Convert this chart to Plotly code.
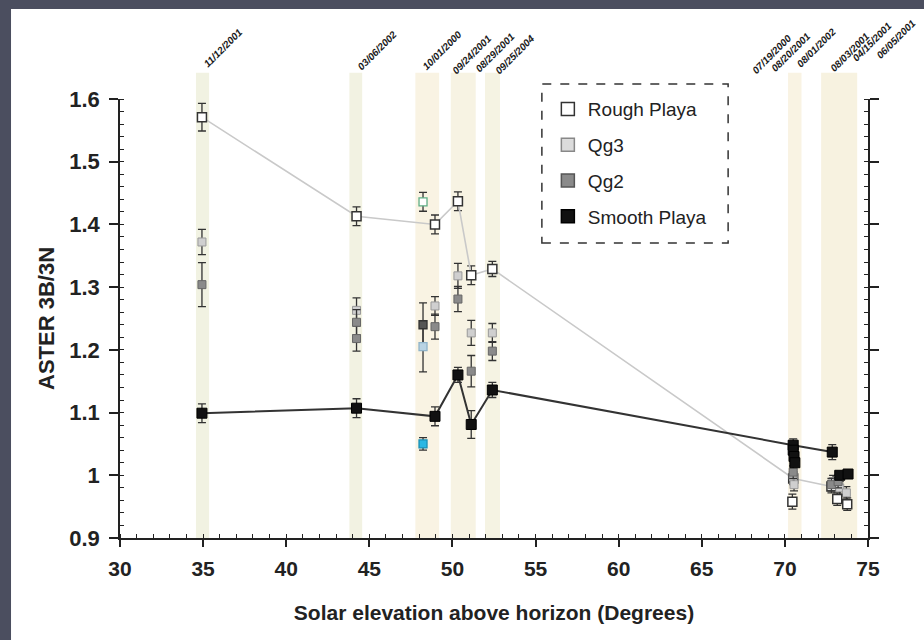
import plotly.graph_objects as go

# ---------------- data ----------------
rough_x = [34.93, 44.23, 48.95, 50.33, 51.13, 52.40, 70.50, 72.80]
rough_y = [1.571, 1.413, 1.400, 1.437, 1.319, 1.329, 0.995, 0.982]
rough_err = [0.022, 0.015, 0.015, 0.015, 0.015, 0.012, 0.010, 0.010]
rough_extra_x = [70.45, 73.15, 73.75]
rough_extra_y = [0.958, 0.962, 0.954]
rough_extra_err = [0.012, 0.010, 0.010]

qg3_x = [34.93, 44.23, 48.95, 50.33, 51.13, 52.40, 70.50, 70.55, 72.90, 73.30, 73.70]
qg3_y = [1.372, 1.263, 1.270, 1.318, 1.227, 1.227, 1.000, 0.985, 0.990, 0.980, 0.972]
qg3_err = [0.020, 0.020, 0.015, 0.020, 0.020, 0.015, 0.010, 0.010, 0.010, 0.010, 0.010]

qg2_x = [34.93, 44.23, 44.23, 48.95, 50.33, 51.13, 52.40, 70.50, 72.80, 73.20]
qg2_y = [1.304, 1.244, 1.218, 1.237, 1.281, 1.166, 1.198, 1.005, 0.985, 0.990]
qg2_err = [0.035, 0.020, 0.020, 0.020, 0.020, 0.025, 0.015, 0.010, 0.010, 0.010]

smooth_x = [34.93, 44.23, 48.95, 50.33, 51.13, 52.40, 70.50, 72.85]
smooth_y = [1.099, 1.107, 1.094, 1.160, 1.081, 1.136, 1.048, 1.037]
smooth_err = [0.015, 0.015, 0.015, 0.012, 0.022, 0.012, 0.010, 0.012]
smooth_extra_x = [70.50, 70.55, 70.60, 73.30, 73.80]
smooth_extra_y = [1.040, 1.030, 1.020, 1.000, 1.002]

# 10/01/2000 scene (odd colours)
odd_x = [48.23, 48.23, 48.23, 48.23]
odd_y = [1.436, 1.240, 1.205, 1.050]
odd_err = [0.015, 0.035, 0.040, 0.010]
odd_fill = ["#ffffff", "#555555", "#b9d3e3", "#2ab7e3"]
odd_edge = ["#5fae85", "#333333", "#8fb3c9", "#1a8fb5"]

# shaded acquisition bands (solar elevation ranges)
band_x0 = [34.57, 43.80, 47.77, 49.90, 51.96, 70.19, 72.18]
band_x1 = [35.36, 44.57, 49.20, 51.40, 52.86, 71.00, 74.35]
band_col = ["#f1f2e2", "#f2f2e2", "#f9f3e3", "#f7f3e3", "#f5f3e3", "#f9f3e3", "#f7f2e0"]

# scene dates (label anchor positions in degrees)
date_labels = ["11/12/2001", "03/06/2002", "10/01/2000", "09/24/2001", "08/29/2001",
               "09/25/2004", "07/19/2000", "08/20/2001", "08/01/2002", "08/03/2001",
               "04/15/2001", "06/05/2001"]
date_x = [34.75, 44.0, 47.9, 49.7, 51.1, 52.3, 67.73, 68.87, 70.43, 72.42, 73.8, 74.95]
date_y = [1.062, 1.055, 1.055, 1.045, 1.05, 1.045, 1.045, 1.05, 1.062, 1.05, 1.075, 1.08]
date_shift = [0, 0, 0, 0, 0, 0, 0, 0, 0, 0, 0, 4]

x_ticks = [30, 35, 40, 45, 50, 55, 60, 65, 70, 75]
y_ticks = [0.9, 1.0, 1.1, 1.2, 1.3, 1.4, 1.5, 1.6]

# ---------------- figure ----------------
FONT = "Arial, Liberation Sans, sans-serif"
fig = go.Figure()

eb = dict(type="data", thickness=1.3, width=4, color="#333333")

fig.add_trace(go.Scatter(x=rough_x, y=rough_y, mode="lines+markers",
                         line=dict(color="#c9c9c9", width=1.6),
                         marker=dict(symbol="square", size=9, color="#ffffff",
                                     line=dict(color="#333333", width=1.5)),
                         error_y=dict(array=rough_err, **eb), showlegend=False))
fig.add_trace(go.Scatter(x=qg3_x, y=qg3_y, mode="markers",
                         marker=dict(symbol="square", size=8, color="#cfcfcf",
                                     line=dict(color="#999999", width=1)),
                         error_y=dict(array=qg3_err, **eb), showlegend=False))
fig.add_trace(go.Scatter(x=qg2_x, y=qg2_y, mode="markers",
                         marker=dict(symbol="square", size=8, color="#8a8a8a",
                                     line=dict(color="#666666", width=1)),
                         error_y=dict(array=qg2_err, **eb), showlegend=False))
fig.add_trace(go.Scatter(x=odd_x, y=odd_y, mode="markers",
                         marker=dict(symbol="square", size=8, color=odd_fill,
                                     line=dict(color=odd_edge, width=1.3)),
                         error_y=dict(array=odd_err, **eb), showlegend=False))
fig.add_trace(go.Scatter(x=rough_extra_x, y=rough_extra_y, mode="markers",
                         marker=dict(symbol="square", size=9, color="#ffffff",
                                     line=dict(color="#333333", width=1.5)),
                         error_y=dict(array=rough_extra_err, **eb), showlegend=False))
fig.add_trace(go.Scatter(x=smooth_x, y=smooth_y, mode="lines+markers",
                         line=dict(color="#333333", width=2),
                         marker=dict(symbol="square", size=10, color="#111111",
                                     line=dict(color="#000000", width=1)),
                         error_y=dict(array=smooth_err, **eb), showlegend=False))
fig.add_trace(go.Scatter(x=smooth_extra_x, y=smooth_extra_y, mode="markers",
                         marker=dict(symbol="square", size=10, color="#111111",
                                     line=dict(color="#000000", width=1)),
                         showlegend=False))

# legend entries
leg = [("Rough Playa", "#ffffff", "#333333"), ("Qg3", "#dcdcdc", "#888888"),
       ("Qg2", "#8a8a8a", "#555555"), ("Smooth Playa", "#111111", "#000000")]
for i, (name, fc, ec) in enumerate(leg):
    fig.add_trace(go.Scatter(x=[None], y=[None], mode="markers", name=name,
                             legendgroup=f"g{i}",
                             marker=dict(symbol="square", size=13, color=fc,
                                         line=dict(color=ec, width=1.5))))

shapes = []
shapes.append(dict(type="rect", xref="paper", yref="paper", x0=-0.1457, x1=1.2,
                   y0=-0.4, y1=1.2050, fillcolor="#ffffff", line=dict(width=0),
                   layer="below"))
for x0, x1, c in zip(band_x0, band_x1, band_col):
    shapes.append(dict(type="rect", xref="x", yref="paper", x0=x0, x1=x1,
                       y0=0, y1=1.06, fillcolor=c, line=dict(width=0), layer="below"))
shapes.append(dict(type="rect", xref="paper", yref="paper", x0=0.564, x1=0.813,
                   y0=0.672, y1=1.034, line=dict(color="#333333", width=1.5, dash="dash"),
                   fillcolor="rgba(0,0,0,0)"))

annotations = []
for t, x, y, s in zip(date_labels, date_x, date_y, date_shift):
    annotations.append(dict(text=f"<i><b>{t}</b></i>", x=x, y=y, xref="x", yref="paper",
                            xshift=s, showarrow=False, textangle=-45, xanchor="left",
                            yanchor="bottom", font=dict(family=FONT, size=10, color="#1a1a1a")))

fig.update_layout(
    width=924, height=640,
    margin=dict(l=120, r=56, t=99, b=102),
    paper_bgcolor="#4b4e5f", plot_bgcolor="rgba(0,0,0,0)",
    font=dict(family=FONT, color="#222222"),
    shapes=shapes, annotations=annotations,
    legend=dict(x=0.572, y=1.02, xanchor="left", yanchor="top",
                bgcolor="rgba(0,0,0,0)", borderwidth=0,
                font=dict(family=FONT, size=19, color="#222222"),
                tracegroupgap=8, traceorder="grouped"),
    xaxis=dict(range=[30, 75], tickvals=x_ticks, showgrid=False, zeroline=False,
               showline=True, linecolor="#222222", linewidth=1.5,
               ticks="outside", ticklen=7, tickwidth=1.5, tickcolor="#222222",
               ticklabelstandoff=4,
               minor=dict(dtick=1, ticks="inside", ticklen=4, tickcolor="#222222", tickwidth=1),
               tickfont=dict(family=FONT, size=21, color="#222222", weight="bold"),
               title=dict(text="Solar elevation above horizon (Degrees)", standoff=26,
                          font=dict(family=FONT, size=21, color="#222222", weight="bold"))),
    yaxis=dict(range=[0.9, 1.6], tickvals=y_ticks, showgrid=False, zeroline=False,
               showline=True, linecolor="#222222", linewidth=1.5, mirror="ticks",
               ticks="outside", ticklen=9, tickwidth=1.5, tickcolor="#222222",
               ticklabelstandoff=5,
               minor=dict(dtick=0.02, ticks="inside", ticklen=4, tickcolor="#222222", tickwidth=1),
               tickfont=dict(family=FONT, size=22, color="#222222", weight="bold"),
               title=dict(text="ASTER 3B/3N", standoff=9,
                          font=dict(family=FONT, size=22, color="#222222", weight="bold"))),
)

fig.write_html("out.html", config={"displayModeBar": False},
               post_script="document.body.style.margin='0';document.body.style.background='#4b4e5f';")
